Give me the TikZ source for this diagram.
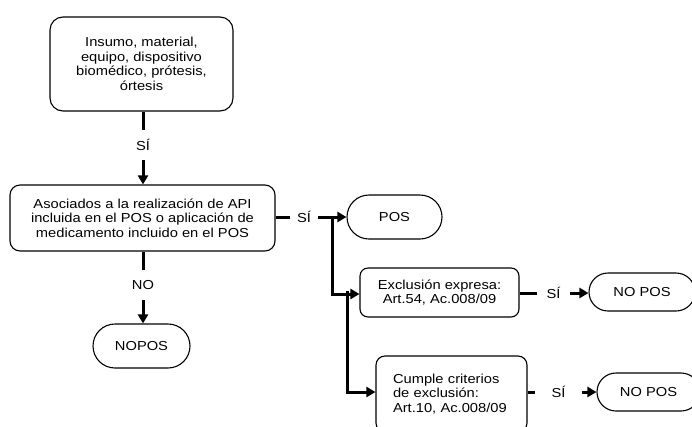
\documentclass[tikz,border=0pt]{standalone}
\usepackage{fontspec}
\setmainfont[FakeStretch=1.13]{Liberation Sans}
\usetikzlibrary{arrows.meta,shapes.misc}
\begin{document}
\begin{tikzpicture}[x=1pt,y=-1pt,
  txt/.style={font=\fontsize{13}{14.6}\selectfont, text=black},
  box/.style={txt, draw, line width=1.1pt, rounded corners=#1, inner sep=0pt, align=center},
  box/.default=10pt,
  term/.style={txt, draw, line width=1.1pt, rounded rectangle, inner sep=0pt, align=center},
  lbl/.style={txt, inner sep=0pt},
  conn/.style={line width=3pt},
  arr/.style={conn, -{Triangle[length=9pt,width=10pt]}},
]
\clip (0,0) rectangle (692,426);

% process boxes
\node[box=13pt, minimum width=183pt, minimum height=94pt] (top) at (141.5,64)
  {Insumo, material,\\equipo, dispositivo\\biomédico, prótesis,\\órtesis};
\node[box=10pt, minimum width=265pt, minimum height=66pt] (asoc) at (142.5,218)
  {Asociados a la realización de API\\incluida en el POS o aplicación de\\medicamento incluido en el POS};
\node[box=8pt, minimum width=159pt, minimum height=49pt] (excl) at (439.5,292.5)
  {Exclusión expresa:\\Art.54, Ac.008/09};
\node[box=9pt, minimum width=151pt, minimum height=76pt, text width=117pt, align=left] (cumple) at (451.5,394)
  {Cumple criterios\\de exclusión:\\Art.10, Ac.008/09};

% terminals
\node[term, minimum width=95pt, minimum height=44pt] (pos) at (394.5,217) {POS};
\node[term, minimum width=97pt, minimum height=44pt] (nopos) at (141.5,346) {NOPOS};
\node[term, minimum width=106pt, minimum height=38pt] (nopos1) at (642,292) {NO POS};
\node[term, minimum width=103pt, minimum height=38pt] (nopos2) at (648.5,392) {NO POS};

% branch labels
\node[lbl, minimum height=30pt] (si0) at (143,145) {SÍ};
\node[lbl, minimum height=30pt] (no0) at (143,285) {NO};
\node[lbl, minimum width=28pt] (si1) at (304,217) {SÍ};
\node[lbl, minimum width=33pt] (si2) at (553.5,293) {SÍ};
\node[lbl, minimum width=47pt] (si3) at (558.5,392) {SÍ};

% junction points on the POS branch
\coordinate (j1) at (332,217);
\coordinate (j2) at (347,291);

% connectors
\draw[conn] (top.south -| si0) -- (si0.north);
\draw[arr] (si0.south) -- (asoc.north -| si0);
\draw[conn] (asoc.south -| no0) -- (no0.north);
\draw[arr] (no0.south) -- (nopos.north -| no0);
\draw[conn] (asoc.east |- si1) -- (si1.west);
\draw[arr] (si1.east) -- (pos.west |- si1);
\draw[arr] (j1) |- (excl.west |- 0,294);
\draw[arr] (j2) |- (cumple.west |- si3);
\draw[conn] (excl.east |- si2) -- (si2.west);
\draw[arr] (si2.east) -- (nopos1.west |- si2);
\draw[conn] (cumple.east |- si3) -- (si3.west);
\draw[arr] (si3.east) -- (nopos2.west |- si3);
\end{tikzpicture}
\end{document}
